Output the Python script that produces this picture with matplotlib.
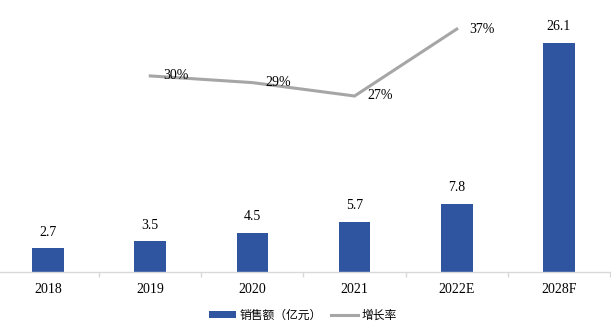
import matplotlib
matplotlib.use("Agg")
import matplotlib.pyplot as plt
from matplotlib.patches import Patch
from matplotlib.lines import Line2D

# Sales (100 million yuan) and year-on-year growth
years = ["2018", "2019", "2020", "2021", "2022E", "2028F"]
sales = [2.7, 3.5, 4.5, 5.7, 7.8, 26.1]
growth_years = ["2019", "2020", "2021", "2022E"]
growth = [0.30, 0.29, 0.27, 0.37]
growth_labels = ["30%", "29%", "27%", "37%"]

bar_color = "#2F54A0"
line_color = "#A6A6A6"
serif = ["Liberation Serif", "DejaVu Serif"]
cjk = ["Noto Sans CJK SC", "DejaVu Sans"]

W, H = 611, 328
fig = plt.figure(figsize=(W / 100, H / 100), dpi=100)
ax = fig.add_axes([-3 / W, (H - 272) / H, 613 / W, 263 / H])

x = list(range(len(years)))
bars = ax.bar(x, sales, width=0.31, color=bar_color, zorder=2)
for xi, v in zip(x, sales):
    ax.annotate(f"{v:.1f}", (xi, v), xytext=(0, 7), textcoords="offset points",
                ha="center", va="bottom", fontsize=10, family=serif, color="#000000")

ax.set_xlim(-0.5, len(years) - 0.5)
ax.set_ylim(0, 30)
ax.set_yticks([])
for s in ("top", "left", "right"):
    ax.spines[s].set_visible(False)
ax.spines["bottom"].set_color("#D9D9D9")
ax.spines["bottom"].set_linewidth(1.0)
ax.set_xticks(x)
ax.set_xticklabels(years, fontsize=10, family=serif)
ax.tick_params(axis="x", which="major", length=0, pad=8)
ax.set_xticks([i + 0.5 for i in x], minor=True)
ax.tick_params(axis="x", which="minor", length=3.6, color="#D9D9D9", width=1.0)

ax2 = ax.twinx()
gx = [years.index(y) for y in growth_years]
ax2.plot(gx, growth, color=line_color, lw=2.2, solid_joinstyle="miter", zorder=3)
ax2.set_ylim(0.007, 0.40)
ax2.set_yticks([])
for s in ("top", "left", "right", "bottom"):
    ax2.spines[s].set_visible(False)
for xi, v, t in zip(gx, growth, growth_labels):
    ax2.annotate(t, (xi, v), xytext=(9, 0), textcoords="offset points",
                 ha="left", va="center", fontsize=10, family=serif, color="#000000")

handles = [Patch(facecolor=bar_color, edgecolor="none"),
           Line2D([0], [0], color=line_color, lw=2.2)]
fig.legend(handles, ["销售额（亿元）", "增长率"], loc="center",
           bbox_to_anchor=(303 / W, 1 - 315 / H), ncol=2, frameon=False,
           prop={"family": cjk, "size": 8.5}, handlelength=2.3, handleheight=0.5,
           handletextpad=0.3, columnspacing=0.8, borderpad=0)

fig.savefig("out.png", dpi=100)
